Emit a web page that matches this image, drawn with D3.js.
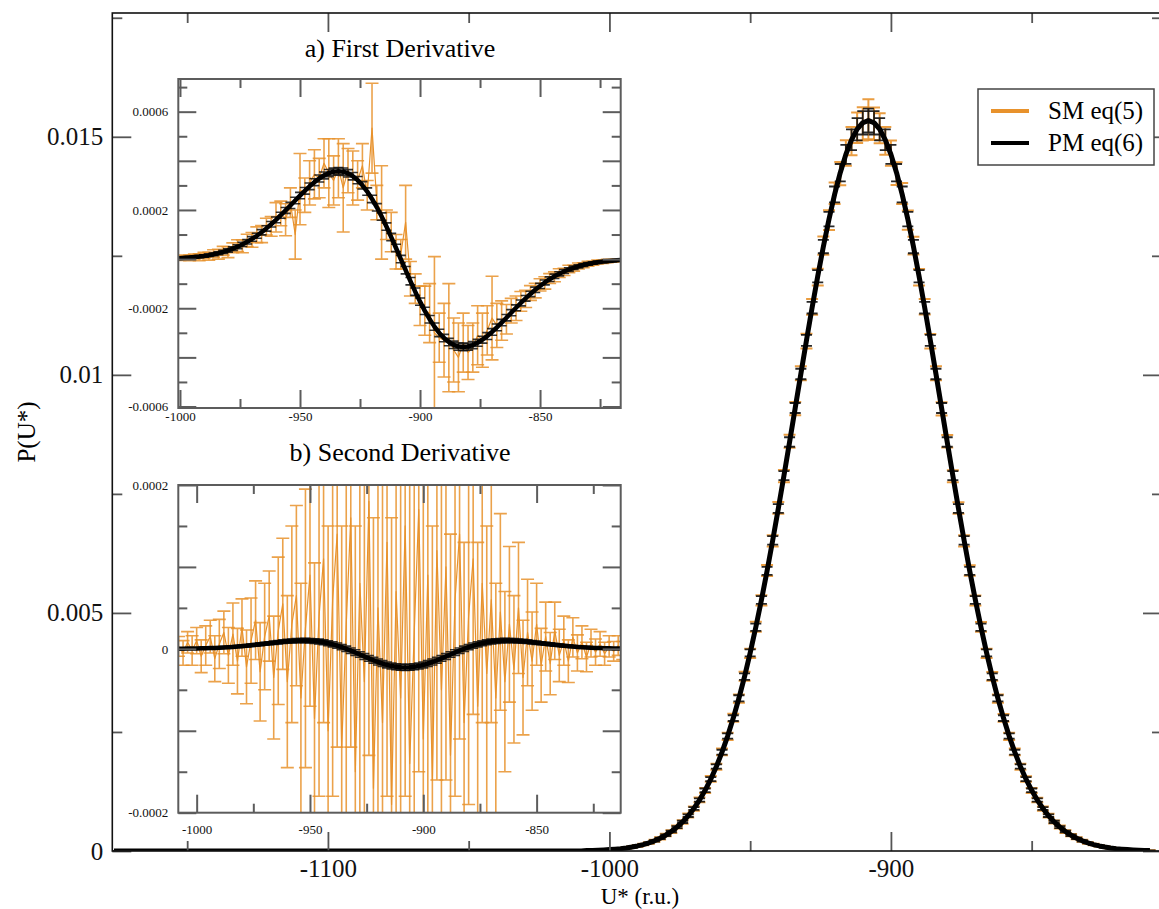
<!DOCTYPE html>
<html>
<head>
<meta charset="utf-8">
<script src="https://cdn.jsdelivr.net/npm/d3@7"></script>
<style>
  body { margin: 0; background: #fff; }
  text { font-family: "Liberation Serif", "DejaVu Serif", serif; }
</style>
</head>
<body>
<div id="chart"></div>
<script>
// ---------------- data ----------------
// energy grid U* (r.u.) shared by the main curve and both insets
const uGrid = [-1008,-1006,-1004,-1002,-1000,-998,-996,-994,-992,-990,
  -988,-986,-984,-982,-980,-978,-976,-974,-972,-970,
  -968,-966,-964,-962,-960,-958,-956,-954,-952,-950,
  -948,-946,-944,-942,-940,-938,-936,-934,-932,-930,
  -928,-926,-924,-922,-920,-918,-916,-914,-912,-910,
  -908,-906,-904,-902,-900,-898,-896,-894,-892,-890,
  -888,-886,-884,-882,-880,-878,-876,-874,-872,-870,
  -868,-866,-864,-862,-860,-858,-856,-854,-852,-850,
  -848,-846,-844,-842,-840,-838,-836,-834,-832,-830,
  -828,-826,-824,-822,-820,-818,-816,-814,-812,-810,-808]

// flat part of the distribution left of the peak
const tailU = [-1176,-1160,-1140,-1120,-1100,-1080,-1060,-1040,-1020,-1010]
const tailP = [0,0,0,0,0,0,0,0,0,0]

// P(U*) : PM eq(6)
const pmMain = [0.0000094,0.0000126,0.0000168,0.0000223,0.0000293,0.0000384,0.0000499,0.0000646,0.0000830,0.0001062,
  0.0001349,0.0001704,0.0002140,0.0002672,0.0003316,0.0004091,0.0005017,0.0006117,0.0007415,0.0008934,
  0.0010701,0.0012742,0.0015082,0.0017747,0.0020760,0.0024142,0.0027908,0.0032071,0.0036638,0.0041609,
  0.0046975,0.0052720,0.0058819,0.0065237,0.0071927,0.0078836,0.0085899,0.0093042,0.0100184,0.0107239,
  0.0114113,0.0120711,0.0126938,0.0132698,0.0137901,0.0142463,0.0146308,0.0149369,0.0151595,0.0152947,
  0.0153400,
  0.0152947,0.0151595,0.0149369,0.0146308,0.0142463,0.0137901,0.0132698,0.0126938,0.0120711,0.0114113,
  0.0107239,0.0100184,0.0093042,0.0085899,0.0078836,0.0071927,0.0065237,0.0058819,0.0052720,0.0046975,
  0.0041609,0.0036638,0.0032071,0.0027908,0.0024142,0.0020760,0.0017747,0.0015082,0.0012742,0.0010701,
  0.0008934,0.0007415,0.0006117,0.0005017,0.0004091,0.0003316,0.0002672,0.0002140,0.0001704,0.0001349,
  0.0001062,0.0000830,0.0000646,0.0000499,0.0000384,0.0000293,0.0000223,0.0000168,0.0000126,0.0000094]
const pmMainErr = [4e-6,4e-6,5e-6,5e-6,6e-6,6e-6,7e-6,8e-6,9e-6,10e-6,
  11e-6,12e-6,14e-6,15e-6,17e-6,19e-6,21e-6,24e-6,27e-6,30e-6,
  34e-6,38e-6,42e-6,46e-6,50e-6,55e-6,60e-6,64e-6,68e-6,72e-6,
  76e-6,80e-6,84e-6,88e-6,92e-6,96e-6,100e-6,105e-6,110e-6,116e-6,
  122e-6,130e-6,140e-6,152e-6,166e-6,182e-6,200e-6,218e-6,234e-6,246e-6,
  250e-6,
  246e-6,234e-6,218e-6,200e-6,182e-6,166e-6,152e-6,140e-6,130e-6,122e-6,
  116e-6,110e-6,105e-6,100e-6,96e-6,92e-6,88e-6,84e-6,80e-6,76e-6,
  72e-6,68e-6,64e-6,60e-6,55e-6,50e-6,46e-6,42e-6,38e-6,34e-6,
  30e-6,27e-6,24e-6,21e-6,19e-6,17e-6,15e-6,14e-6,12e-6,11e-6,
  10e-6,9e-6,8e-6,7e-6,6e-6,6e-6,5e-6,5e-6,4e-6,4e-6]

// P(U*) : SM eq(5)
const smMain = [0.0000100,0.0000130,0.0000160,0.0000230,0.0000290,0.0000390,0.0000510,0.0000640,0.0000840,0.000105,
  0.000137,0.000168,0.000216,0.000266,0.000334,0.000407,0.000505,0.000609,0.000745,0.000890,
  0.001075,0.001270,0.001513,0.001770,0.002083,0.002408,0.002798,0.003200,0.003672,0.004152,
  0.004708,0.005262,0.005893,0.006512,0.007206,0.007872,0.008606,0.009290,0.010035,0.010708,
  0.011430,0.012052,0.012715,0.013250,0.013815,0.014225,0.014660,0.014910,0.015190,0.015270,
  0.015370,
  0.015275,0.015180,0.014915,0.014655,0.014225,0.013810,0.013250,0.012715,0.012050,0.011430,
  0.010705,0.010035,0.009285,0.008605,0.007870,0.007205,0.006512,0.005892,0.005262,0.004705,
  0.004152,0.003670,0.003200,0.002797,0.002408,0.002081,0.001770,0.001512,0.001270,0.001073,
  0.000890,0.000744,0.000609,0.000504,0.000407,0.000333,0.000266,0.000215,0.000169,0.000136,
  0.000105,0.000084,0.000064,0.000051,0.000039,0.000030,0.000023,0.000017,0.000013,0.000010]
const smMainErr = [6e-6,5e-6,7e-6,8e-6,8e-6,10e-6,11e-6,12e-6,13e-6,15e-6,
  16e-6,18e-6,21e-6,22e-6,26e-6,28e-6,32e-6,35e-6,40e-6,44e-6,
  50e-6,54e-6,61e-6,65e-6,72e-6,76e-6,83e-6,88e-6,95e-6,98e-6,
  105e-6,108e-6,115e-6,118e-6,125e-6,128e-6,135e-6,140e-6,148e-6,155e-6,
  165e-6,175e-6,190e-6,205e-6,225e-6,245e-6,270e-6,295e-6,320e-6,350e-6,
  420e-6,
  340e-6,315e-6,290e-6,265e-6,240e-6,222e-6,200e-6,186e-6,172e-6,162e-6,
  152e-6,146e-6,138e-6,132e-6,127e-6,122e-6,117e-6,112e-6,106e-6,102e-6,
  96e-6,92e-6,86e-6,80e-6,75e-6,70e-6,64e-6,59e-6,53e-6,48e-6,
  43e-6,39e-6,34e-6,31e-6,27e-6,24e-6,21e-6,19e-6,17e-6,15e-6,
  13e-6,12e-6,10e-6,9e-6,8e-6,7e-6,7e-6,6e-6,5e-6,5e-6]

// a) first derivative, in units of 1e-5
const pm1 = [0.14,0.18,0.24,0.31,0.39,0.51,0.65,0.83,1.03,1.29,
  1.60,1.96,2.41,2.92,3.54,4.24,5.05,5.98,7.02,8.19,
  9.50,10.93,12.49,14.18,15.97,17.85,19.82,21.82,23.85,25.85,
  27.79,29.64,31.32,32.81,34.05,34.99,35.58,35.78,35.57,34.90,
  33.76,32.14,30.04,27.48,24.48,21.07,17.31,13.26,8.97,4.53,
  0,
  -4.53,-8.97,-13.26,-17.31,-21.07,-24.48,-27.48,-30.04,-32.14,-33.76,
  -34.90,-35.57,-35.78,-35.58,-34.99,-34.05,-32.81,-31.32,-29.64,-27.79,
  -25.85,-23.85,-21.82,-19.82,-17.85,-15.97,-14.18,-12.49,-10.93,-9.50,
  -8.19,-7.02,-5.98,-5.05,-4.24,-3.54,-2.92,-2.41,-1.96,-1.60,
  -1.29,-1.03,-0.83,-0.65,-0.51,-0.39,-0.31,-0.24,-0.18,-0.14]
const pm1Err = [0.3,0.3,0.3,0.3,0.35,0.35,0.4,0.4,0.45,0.5,
  0.5,0.55,0.6,0.65,0.7,0.75,0.8,0.85,0.9,0.95,
  1.0,1.05,1.1,1.1,1.15,1.2,1.2,1.25,1.3,1.3,
  1.35,1.35,1.4,1.4,1.4,1.45,1.45,1.45,1.5,1.5,
  1.5,1.5,1.5,1.5,1.5,1.5,1.5,1.5,1.5,1.5,
  1.5,
  1.5,1.5,1.5,1.5,1.5,1.5,1.5,1.5,1.5,1.5,
  1.5,1.5,1.45,1.45,1.45,1.4,1.4,1.4,1.35,1.35,
  1.3,1.3,1.25,1.2,1.2,1.15,1.1,1.1,1.05,1.0,
  0.95,0.9,0.85,0.8,0.75,0.7,0.65,0.6,0.55,0.5,
  0.5,0.45,0.4,0.4,0.35,0.35,0.3,0.3,0.3,0.3]
const sm1 = [0.1,0.3,0.2,0.4,0.3,0.6,0.5,1.1,0.8,1.6,
  1.2,2.3,2.0,3.4,2.8,4.6,5.5,5.2,7.6,7.8,
  9.9,10.2,13.2,13.3,17.0,18.6,16.0,23.0,10.0,28.5,
  26.0,31.0,34.5,33.0,39.0,35.0,32.0,37.0,29.0,36.0,
  33.0,32.0,38.0,26.0,53.3,23.0,19.0,14.0,11.0,3.0,
  2.0,15.0,-8.0,-12.0,-19.0,-21.0,-22.0,-30.0,-32.0,-33.0,
  -32.0,-37.0,-40.0,-34.0,-38.0,-36.0,-31.0,-33.0,-29.0,-24.0,
  -27.0,-25.0,-24.5,-21.0,-20.0,-17.2,-16.2,-13.8,-12.8,-10.5,
  -9.7,-7.9,-7.2,-5.7,-5.2,-4.0,-3.7,-2.8,-2.5,-1.9,
  -1.7,-1.2,-1.1,-0.8,-0.7,-0.5,-0.4,-0.3,-0.25,-0.2,
  -0.15]
const sm1Err = [0.5,0.6,0.8,0.7,0.8,1.0,1.2,1.0,1.4,1.2,
  1.6,1.5,2.0,1.8,2.2,2.0,2.4,2.6,2.5,3.0,
  3.2,3.5,3.4,4.0,6.0,5.0,6.5,6.0,10.0,14.5,
  7.0,9.0,10.0,8.0,10.0,14.0,10.0,12.0,18.0,9.0,
  11.0,8.0,9.0,6.0,18.3,7.0,19.0,6.0,8.0,7.0,
  6.0,15.0,7.0,6.0,8.0,10.0,12.0,31.0,10.0,15.0,
  22.0,13.0,14.0,12.0,11.0,10.0,12.0,11.0,10.0,17.0,
  9.0,8.0,6.0,5.0,5.0,4.0,3.5,3.0,3.0,2.5,
  2.5,2.0,2.0,1.8,1.5,1.5,1.2,1.2,1.0,1.0,
  0.8,0.8,0.7,0.7,0.6,0.6,0.5,0.5,0.5,0.4,
  0.4]

// b) second derivative, in units of 1e-5
const pm2 = [0.019,0.025,0.031,0.040,0.049,0.062,0.077,0.096,0.116,0.140,
  0.169,0.201,0.239,0.280,0.327,0.378,0.434,0.493,0.555,0.619,
  0.685,0.750,0.812,0.870,0.921,0.964,0.994,1.011,1.010,0.991,
  0.950,0.886,0.798,0.685,0.548,0.386,0.203,0,-0.219,-0.451,
  -0.689,-0.930,-1.167,-1.394,-1.605,-1.796,-1.959,-2.092,-2.189,-2.249,
  -2.269,
  -2.249,-2.189,-2.092,-1.959,-1.796,-1.605,-1.394,-1.167,-0.930,-0.689,
  -0.451,-0.219,0,0.203,0.386,0.548,0.685,0.798,0.886,0.950,
  0.991,1.010,1.011,0.994,0.964,0.921,0.870,0.812,0.750,0.685,
  0.619,0.555,0.493,0.434,0.378,0.327,0.280,0.239,0.201,0.169,
  0.140,0.116,0.096,0.077,0.062,0.049,0.040,0.031,0.025,0.019]
const pm2Err = [0.05,0.05,0.05,0.06,0.06,0.07,0.07,0.08,0.08,0.09,
  0.1,0.1,0.11,0.12,0.13,0.14,0.15,0.16,0.17,0.18,
  0.19,0.2,0.21,0.22,0.23,0.24,0.25,0.26,0.27,0.28,
  0.29,0.3,0.3,0.31,0.31,0.32,0.32,0.33,0.33,0.34,
  0.34,0.35,0.35,0.35,0.36,0.36,0.36,0.37,0.37,0.37,
  0.37,
  0.37,0.37,0.37,0.36,0.36,0.36,0.35,0.35,0.35,0.34,
  0.34,0.33,0.33,0.32,0.32,0.31,0.31,0.3,0.3,0.29,
  0.28,0.27,0.26,0.25,0.24,0.23,0.22,0.21,0.2,0.19,
  0.18,0.17,0.16,0.15,0.14,0.13,0.12,0.11,0.1,0.1,
  0.09,0.08,0.08,0.07,0.07,0.06,0.06,0.05,0.05,0.05]
const sm2 = [0.3,-0.5,0.8,-0.2,1.0,-0.9,0.4,1.5,-1.2,0.6,
  2.0,-0.8,1.8,-1.5,2.6,-2.2,1.0,3.5,-2.8,1.5,
  4.0,-3.5,2.2,5.5,-4.0,3.0,6.5,-6.0,2.5,9.0,
  -8.5,4.0,11.0,-10.0,6.0,14.0,-12.0,3.0,16.0,-15.0,
  8.0,-4.0,18.0,-17.0,5.0,-9.0,13.0,-19.0,7.0,-6.0,
  15.0,-14.0,2.0,17.0,-11.0,9.0,-16.0,12.0,-5.0,10.0,
  -13.0,6.0,14.0,-9.0,4.0,11.0,-7.0,8.0,-3.0,6.0,
  -6.0,4.5,-4.0,3.0,-2.5,5.0,-3.5,2.0,-1.5,3.0,
  -2.0,1.5,-1.8,2.2,-0.8,1.0,-1.5,1.4,-0.5,0.8,
  -1.0,0.7,-0.4,0.6,-0.6,0.3,-0.3,0.4,-0.2,0.2,
  -0.1]
const sm2Err = [1.2,1.5,1.3,1.8,1.6,2.0,2.4,2.0,2.8,3.0,
  2.6,3.4,3.8,4.0,3.5,4.5,5.2,4.8,6.0,6.5,
  5.5,7.5,9.0,8.0,10.5,12.0,11.0,14.0,17.0,16.0,
  19.0,22.0,20.0,25.0,24.0,26.0,27.0,30.0,28.0,30.0,
  32.0,29.0,31.0,33.0,30.0,34.0,31.0,35.0,32.0,36.0,
  33.0,34.0,30.0,32.0,35.0,29.0,31.0,28.0,30.0,26.0,
  27.0,24.0,25.0,22.0,23.0,19.0,20.0,17.0,18.0,15.0,
  14.0,12.0,11.0,9.5,9.0,8.0,7.0,6.5,6.0,5.0,
  4.5,4.2,3.8,3.5,3.2,3.0,2.6,2.4,2.2,2.0,
  1.8,1.7,1.6,1.5,1.4,1.3,1.2,1.2,1.1,1.0,
  1.0]

// ticks
const xMajorMain = [-1100, -1000, -900]
const xMinorMain = [-1150, -1050, -950, -850]
const yMajorMain = [0, 0.005, 0.01, 0.015]
const yMinorMain = [0.0025, 0.0075, 0.0125, 0.0175]
const xMajorInset = [-1000, -950, -900, -850]
const xMinorInset = [-975, -925, -875, -825]
const yMajorA = [-0.0006, -0.0004, -0.0002, 0, 0.0002, 0.0004, 0.0006]
const yMinorA = [-0.0005, -0.0003, -0.0001, 0.0001, 0.0003, 0.0005, 0.0007]
const yLabelsA = [-0.0006, -0.0002, 0.0002, 0.0006]
const yMajorB = [-0.0002, -0.0001, 0, 0.0001, 0.0002]
const yMinorB = [-0.00015, -0.00005, 0.00005, 0.00015]
const yLabelsB = [-0.0002, 0, 0.0002]
const seriesNames = ['SM eq(5)', 'PM eq(6)']

const ORANGE = '#e8922c'
const e5 = v => v * 1e-5

// ---------------- drawing ----------------
const svg = d3.select('#chart').append('svg')
  .attr('width', 1159)
  .attr('height', 909)

//error bars as one path per point
function errorBars(g, sx, sy, us, vals, errs, st) {
  const pts = us.map((u, i) => [sx(u), sy(vals[i] - errs[i]), sy(vals[i] + errs[i])])
  g.append('g')
    .attr('fill', 'none')
    .attr('stroke', st.color)
    .attr('stroke-width', st.width)
    .attr('stroke-opacity', st.opacity)
    .selectAll('path')
    .data(pts)
    .join('path')
    .attr('d', ([px, lo, hi]) =>
      `M${px},${lo}V${hi}M${px - st.cap},${lo}H${px + st.cap}M${px - st.cap},${hi}H${px + st.cap}`)
}

function curve(g, sx, sy, us, vals, color, width) {
  g.append('path')
    .datum(us.map((u, i) => [u, vals[i]]))
    .attr('fill', 'none')
    .attr('stroke', color)
    .attr('stroke-width', width)
    .attr('stroke-linejoin', 'round')
    .attr('d', d3.line().x(d => sx(d[0])).y(d => sy(d[1])))
}

//inward ticks on all four sides, labels on bottom and left
function frameTicks(g, sx, sy, b, o) {
  const lbl = (list, fmt) => d => list.some(v => Math.abs(v - d) < 1e-12) ? fmt(d) : ''
  const sides = [
    [d3.axisBottom(sx), `translate(0,${b.bottom})`, 'x', true],
    [d3.axisTop(sx), `translate(0,${b.top})`, 'x', false],
    [d3.axisLeft(sy), `translate(${b.left},0)`, 'y', true],
    [d3.axisRight(sy), `translate(${b.right},0)`, 'y', false]
  ]
  sides.forEach(([ax, tr, dim, withLabels]) => {
    const major = dim === 'x' ? o.xMajor : o.yMajor
    const minor = dim === 'x' ? o.xMinor : o.yMinor
    const labels = dim === 'x' ? o.xLabels : o.yLabels
    const fmt = dim === 'x' ? o.xFmt : o.yFmt
    const gm = g.append('g').attr('transform', tr)
      .call(ax.tickValues(major).tickSize(-o.major)
        .tickPadding(dim === 'x' ? o.xPad : o.yPad)
        .tickFormat(withLabels ? lbl(labels, fmt) : () => ''))
    gm.select('.domain').remove()
    gm.selectAll('line').attr('stroke', o.color).attr('stroke-width', o.width)
    gm.selectAll('text')
      .attr('font-size', o.fontSize)
      .attr('font-family', '"Liberation Serif", serif')
      .attr('fill', '#111')
    const gn = g.append('g').attr('transform', tr)
      .call(ax.tickValues(minor).tickSize(-o.minor).tickFormat(() => ''))
    gn.select('.domain').remove()
    gn.selectAll('line').attr('stroke', o.color).attr('stroke-width', o.width)
  })
  g.append('rect')
    .attr('x', b.left).attr('y', b.top)
    .attr('width', b.right - b.left).attr('height', b.bottom - b.top)
    .attr('fill', 'none').attr('stroke', o.frame).attr('stroke-width', o.frameWidth)
}

function clipFor(id, b) {
  svg.append('clipPath').attr('id', id)
    .append('rect')
    .attr('x', b.left).attr('y', b.top)
    .attr('width', b.right - b.left).attr('height', b.bottom - b.top)
  return `url(#${id})`
}

const fmtNum = d => d === 0 ? '0' : String(+d.toFixed(5))

// ---- main panel ----
const mainBox = { left: 112.3, right: 1162, top: 13, bottom: 851 }
const x = d3.scaleLinear().domain([-1176.6, -803.7]).range([mainBox.left, mainBox.right])
const y = d3.scaleLinear().domain([0, 0.0176]).range([mainBox.bottom, mainBox.top])

const mainU = tailU.concat(uGrid)
const mainPM = tailP.concat(pmMain)
const mainSM = tailP.concat(smMain)
const mainPMErr = tailP.concat(pmMainErr)
const mainSMErr = tailP.concat(smMainErr)

const gMain = svg.append('g').attr('clip-path', clipFor('clipMain', mainBox))
errorBars(gMain, x, y, mainU, mainSM, mainSMErr, { color: ORANGE, width: 2, opacity: 0.9, cap: 6 })
curve(gMain, x, y, mainU, mainSM, ORANGE, 3)
errorBars(gMain, x, y, mainU, mainPM, mainPMErr, { color: '#111', width: 1.8, opacity: 0.9, cap: 5.5 })
curve(gMain, x, y, mainU, mainPM, '#000', 5)

frameTicks(svg.append('g'), x, y, mainBox, {
  xMajor: xMajorMain, xMinor: xMinorMain, yMajor: yMajorMain, yMinor: yMinorMain,
  xLabels: xMajorMain, yLabels: yMajorMain,
  xFmt: d => String(d), yFmt: fmtNum,
  major: 19, minor: 10, xPad: 8, yPad: 9, fontSize: 25,
  color: '#555', width: 1.8, frame: '#111', frameWidth: 1.6
})

svg.append('text')
  .attr('x', 640).attr('y', 904)
  .attr('text-anchor', 'middle')
  .attr('font-size', 23)
  .text('U* (r.u.)')
svg.append('text')
  .attr('transform', 'translate(35,432) rotate(-90)')
  .attr('text-anchor', 'middle')
  .attr('font-size', 25)
  .text('P(U*)')

// ---- insets ----
function inset(b, xDomain, yDomain, yMajor, yMinor, yLabels, xPad, series, title, titleY) {
  const sx = d3.scaleLinear().domain(xDomain).range([b.left, b.right])
  const sy = d3.scaleLinear().domain(yDomain).range([b.bottom, b.top])
  svg.append('rect')
    .attr('x', b.left).attr('y', b.top)
    .attr('width', b.right - b.left).attr('height', b.bottom - b.top)
    .attr('fill', '#fff')
  const g = svg.append('g').attr('clip-path', clipFor('clip' + titleY, b))
  errorBars(g, sx, sy, uGrid, series.sm, series.smErr, { color: ORANGE, width: 1.6, opacity: 0.85, cap: 6.5 })
  curve(g, sx, sy, uGrid, series.sm, ORANGE, 1.2)
  errorBars(g, sx, sy, uGrid, series.pm, series.pmErr, { color: '#111', width: 1.6, opacity: 0.85, cap: 5 })
  curve(g, sx, sy, uGrid, series.pm, '#000', 4.5)
  frameTicks(svg.append('g'), sx, sy, b, {
    xMajor: xMajorInset, xMinor: xMinorInset, yMajor: yMajor, yMinor: yMinor,
    xLabels: xMajorInset, yLabels: yLabels,
    xFmt: d => String(d), yFmt: fmtNum,
    major: 18, minor: 9, xPad: xPad, yPad: 10, fontSize: 13,
    color: '#5c5c5c', width: 2, frame: '#5c5c5c', frameWidth: 2
  })
  svg.append('text')
    .attr('x', 400).attr('y', titleY)
    .attr('text-anchor', 'middle')
    .attr('font-size', 26)
    .text(title)
}

inset({ left: 178.3, right: 620.7, top: 79, bottom: 408 },
  [-1000.7, -816.4], [-0.000606, 0.000733], yMajorA, yMinorA, yLabelsA, 4,
  { pm: pm1.map(e5), pmErr: pm1Err.map(e5), sm: sm1.map(e5), smErr: sm1Err.map(e5) },
  'a) First Derivative', 57)

inset({ left: 178.3, right: 620.7, top: 485, bottom: 812.7 },
  [-1008.1, -812.9], [-0.0002, 0.0002], yMajorB, yMinorB, yLabelsB, 12,
  { pm: pm2.map(e5), pmErr: pm2Err.map(e5), sm: sm2.map(e5), smErr: sm2Err.map(e5) },
  'b) Second Derivative', 461)

// ---- legend ----
const legend = svg.append('g')
legend.append('rect')
  .attr('x', 978).attr('y', 89).attr('width', 176).attr('height', 76)
  .attr('fill', '#fff').attr('stroke', '#444').attr('stroke-width', 1.5)
const legendColors = [ORANGE, '#000']
legend.selectAll('line.key')
  .data(seriesNames)
  .join('line')
  .attr('class', 'key')
  .attr('x1', 991).attr('x2', 1029)
  .attr('y1', (d, i) => 111 + i * 32).attr('y2', (d, i) => 111 + i * 32)
  .attr('stroke', (d, i) => legendColors[i])
  .attr('stroke-width', 4)
legend.selectAll('text')
  .data(seriesNames)
  .join('text')
  .attr('x', 1048)
  .attr('y', (d, i) => 119 + i * 32)
  .attr('font-size', 25)
  .text(d => d)
</script>
</body>
</html>
